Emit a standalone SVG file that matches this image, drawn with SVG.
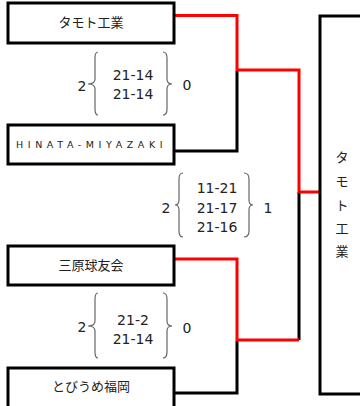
<svg xmlns="http://www.w3.org/2000/svg" width="360" height="406" viewBox="0 0 360 406">
<style>
.box{fill:#fff;stroke:#000;stroke-width:3}
.jp{font-family:"Noto Sans CJK JP","DejaVu Sans",sans-serif;font-size:13px;fill:#222;text-anchor:middle}
.sc{font-family:"DejaVu Sans","Noto Sans",sans-serif;font-size:14px;fill:#222;text-anchor:middle}
.br{fill:none;stroke:#666;stroke-width:1.2}
.blk{fill:none;stroke:#000;stroke-width:3}
.red{fill:none;stroke:#f00;stroke-width:3}
</style>
<rect width="360" height="406" fill="#fff"/>
<g id="connectors">
<path class="blk" d="M174 151 H237 V71"/>
<path class="blk" d="M299 192 V340"/>
<path class="blk" d="M174 393 H237 V341"/>
<path class="red" d="M174 15.5 H237 V70 H299 V192 H320"/>
<path class="red" d="M174 259 H237 V340 H299"/>
</g>
<g id="team1">
<rect class="box" x="8" y="3" width="166" height="40"/>
<text class="jp" x="91" y="27">タモト工業</text>
</g>
<g id="team2">
<rect class="box" x="8" y="125" width="166" height="39"/>
<text x="16" y="148" font-family="DejaVu Sans, sans-serif" font-size="9.5" letter-spacing="4.6" fill="#222">HINATA-MIYAZAKI</text>
</g>
<g id="team3">
<rect class="box" x="8" y="246" width="166" height="39"/>
<text class="jp" x="91" y="270">三原球友会</text>
</g>
<g id="team4">
<rect class="box" x="8" y="368" width="166" height="50"/>
<text class="jp" x="91" y="391">とびうめ福岡</text>
</g>
<g id="winner">
<rect class="box" x="320" y="16" width="60" height="378"/>
<text class="jp" x="342" y="162">タ</text>
<text class="jp" x="342" y="186">モ</text>
<text class="jp" x="342" y="210">ト</text>
<text class="jp" x="342" y="233">工</text>
<text class="jp" x="342" y="256">業</text>
</g>
<g id="score1">
<text class="sc" x="82" y="91">2</text>
<path class="br" d="M98 52 Q95 52 95 58 L95 79 Q95 84 88 84 Q95 84 95 89 L95 109 Q95 115 98 115"/>
<text class="sc" x="133" y="80">21-14</text>
<text class="sc" x="133" y="99">21-14</text>
<path class="br" d="M163 52 Q167 52 167 58 L167 79 Q167 84 172 84 Q167 84 167 89 L167 109 Q167 115 163 115"/>
<text class="sc" x="187" y="90">0</text>
</g>
<g id="score2">
<text class="sc" x="166" y="213">2</text>
<path class="br" d="M183 173 Q179 173 179 179 L179 200 Q179 205 175 205 Q179 205 179 210 L179 231 Q179 237 183 237"/>
<text class="sc" x="217" y="193">11-21</text>
<text class="sc" x="217" y="213">21-17</text>
<text class="sc" x="217" y="232">21-16</text>
<path class="br" d="M244 173 Q249 173 249 179 L249 200 Q249 205 253 205 Q249 205 249 210 L249 231 Q249 237 244 237"/>
<text class="sc" x="268" y="213">1</text>
</g>
<g id="score3">
<text class="sc" x="82" y="332">2</text>
<path class="br" d="M98 293 Q95 293 95 299 L95 321 Q95 326 88 326 Q95 326 95 331 L95 352 Q95 358 98 358"/>
<text class="sc" x="133" y="325">21-2</text>
<text class="sc" x="133" y="344">21-14</text>
<path class="br" d="M163 293 Q167 293 167 299 L167 321 Q167 326 172 326 Q167 326 167 331 L167 352 Q167 358 163 358"/>
<text class="sc" x="187" y="333">0</text>
</g>
</svg>
